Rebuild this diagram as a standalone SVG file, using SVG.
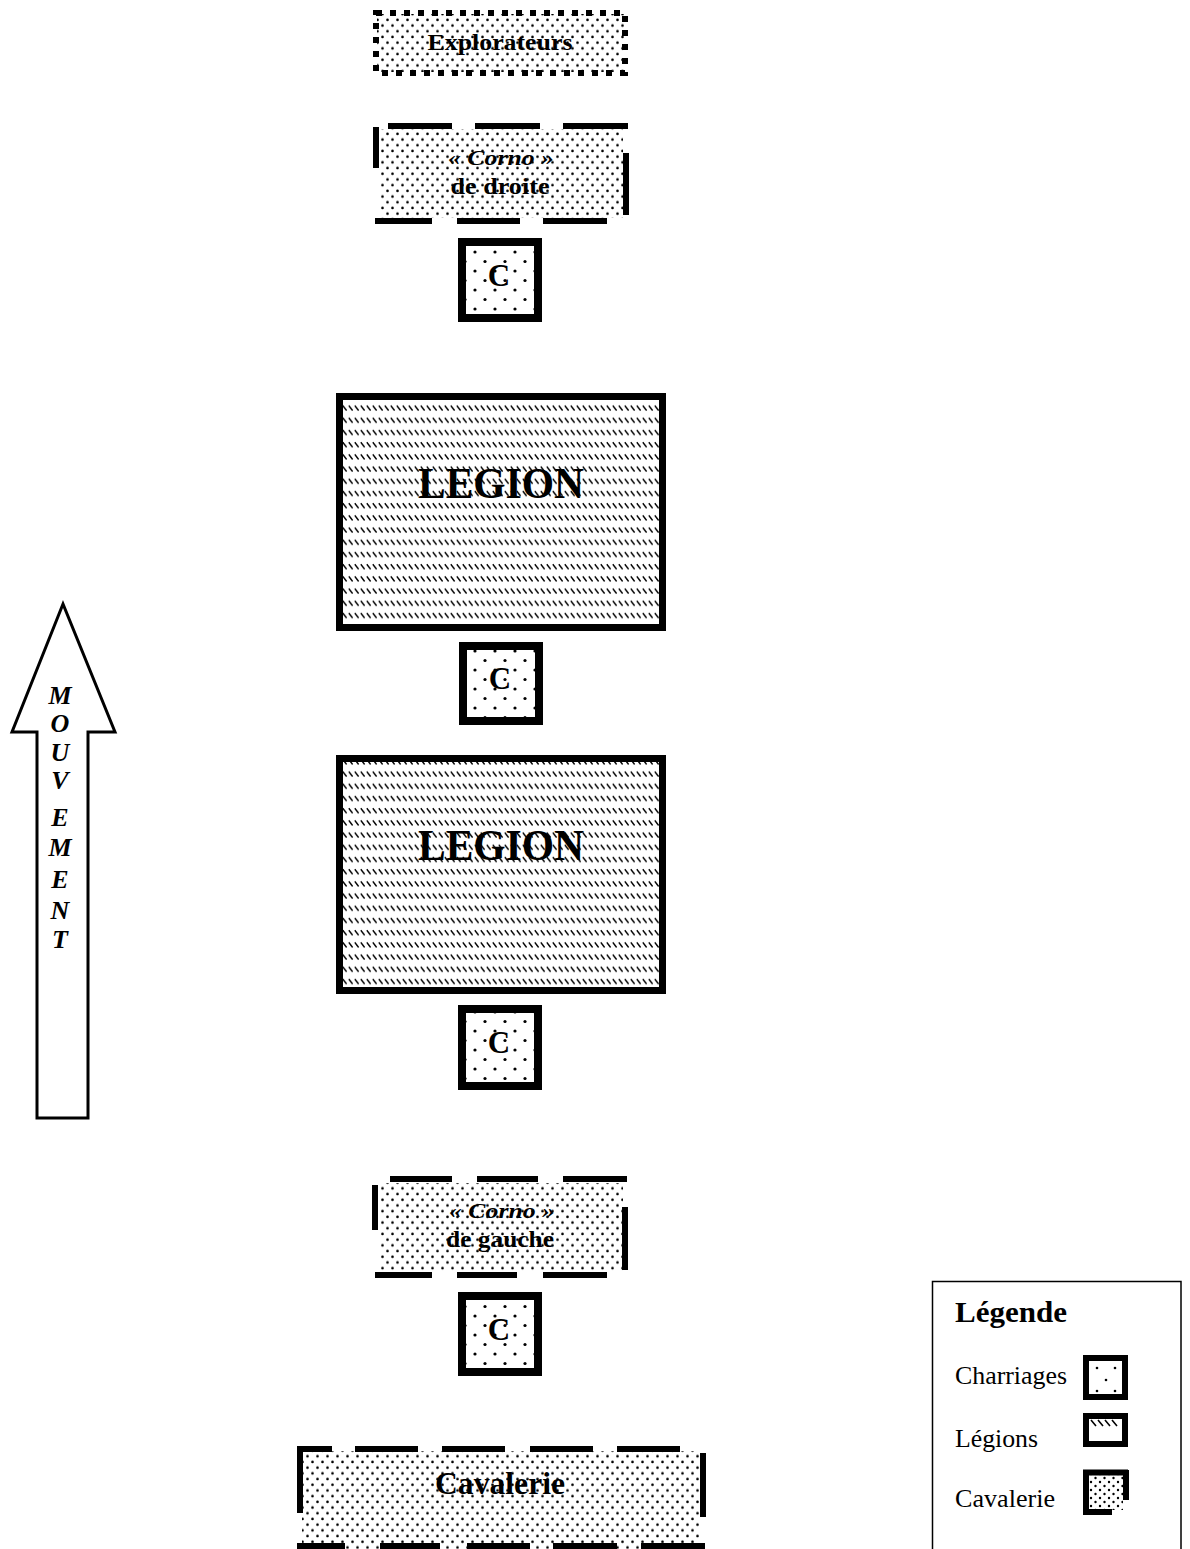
<svg xmlns="http://www.w3.org/2000/svg" width="1190" height="1549" viewBox="0 0 1190 1549">
<defs>
<pattern id="fineDots" patternUnits="userSpaceOnUse" width="10" height="11.4">
<circle cx="2.5" cy="2.8" r="1.3" fill="#000"/>
<circle cx="7.5" cy="8.5" r="1.3" fill="#000"/>
</pattern>
<pattern id="cDots" patternUnits="userSpaceOnUse" width="20" height="19">
<circle cx="15" cy="5" r="1.6" fill="#000"/>
<circle cx="5" cy="14.5" r="1.6" fill="#000"/>
</pattern>
<pattern id="hatch" patternUnits="userSpaceOnUse" width="6" height="12.2">
<line x1="0.8" y1="3" x2="4.6" y2="8" stroke="#000" stroke-width="1.4"/>
</pattern>
<pattern id="legDots" patternUnits="userSpaceOnUse" width="9" height="8">
<circle cx="2" cy="2" r="1.2" fill="#000"/>
<circle cx="6.5" cy="6" r="1.2" fill="#000"/>
</pattern>
</defs>
<style>
text{font-family:"Liberation Serif","Times New Roman",serif;fill:#000}
.b{font-weight:bold}
.bi{font-weight:bold;font-style:italic}
.dash{stroke:#000;stroke-width:6;fill:none}
.cbox{fill:url(#cDots);stroke:#000;stroke-width:8}
.legion{fill:url(#hatch);stroke:#000;stroke-width:7}
</style>
<rect width="1190" height="1549" fill="#fff"/>

<g id="explorateurs">
<rect x="377" y="14" width="247" height="58" fill="url(#fineDots)"/>
<rect x="376" y="13" width="249" height="60" fill="none" stroke="#000" stroke-width="6" stroke-dasharray="6 8"/>
<text class="b" x="500" y="50" font-size="24" text-anchor="middle" textLength="145" lengthAdjust="spacingAndGlyphs">Explorateurs</text>
</g>

<g id="corno-droite">
<rect x="379" y="129" width="244" height="89" fill="url(#fineDots)"/>
<path class="dash" d="M388 126H452M475 126H540M563 126H628M376 127V168M626 153V215M375 221H432M457 221H520M543 221H607"/>
<text class="bi" x="501" y="165" font-size="22" text-anchor="middle" textLength="106" lengthAdjust="spacingAndGlyphs">« Corno »</text>
<text class="b" x="500" y="194" font-size="23" text-anchor="middle" textLength="99" lengthAdjust="spacingAndGlyphs">de droite</text>
</g>

<g id="charriages-1">
<rect class="cbox" x="462" y="242" width="76" height="76"/>
<text class="b" x="499" y="286" font-size="31" text-anchor="middle">C</text>
</g>

<g id="legion-1">
<rect class="legion" x="339.5" y="396.5" width="323" height="231"/>
<text class="b" x="501" y="498" font-size="44" text-anchor="middle" textLength="166" lengthAdjust="spacingAndGlyphs">LEGION</text>
</g>

<g id="charriages-2">
<rect class="cbox" x="463" y="646" width="76" height="75"/>
<text class="b" x="500" y="689" font-size="31" text-anchor="middle">C</text>
</g>

<g id="legion-2">
<rect class="legion" x="339.5" y="758.5" width="323" height="232"/>
<text class="b" x="501" y="860" font-size="44" text-anchor="middle" textLength="166" lengthAdjust="spacingAndGlyphs">LEGION</text>
</g>

<g id="charriages-3">
<rect class="cbox" x="462" y="1009" width="76" height="77"/>
<text class="b" x="499" y="1053" font-size="31" text-anchor="middle">C</text>
</g>

<g id="corno-gauche">
<rect x="379" y="1183" width="244" height="89" fill="url(#fineDots)"/>
<path class="dash" d="M390 1179H452M477 1179H538M563 1179H627M375 1185V1230M625 1207V1270M375 1275H432M457 1275H517M543 1275H607"/>
<text class="bi" x="502" y="1218" font-size="22" text-anchor="middle" textLength="106" lengthAdjust="spacingAndGlyphs">« Corno »</text>
<text class="b" x="500" y="1247" font-size="23" text-anchor="middle" textLength="108" lengthAdjust="spacingAndGlyphs">de gauche</text>
</g>

<g id="charriages-4">
<rect class="cbox" x="462" y="1296" width="76" height="76"/>
<text class="b" x="499" y="1340" font-size="31" text-anchor="middle">C</text>
</g>

<g id="cavalerie">
<rect x="302" y="1451" width="398" height="98" fill="url(#fineDots)"/>
<path class="dash" d="M297 1449H332M355 1449H418M442 1449H505M530 1449H593M617 1449H680M300 1446V1513M703 1453V1517M297 1546H345M380 1546H440M467 1546H530M553 1546H617M641 1546H705"/>
<text class="b" x="500" y="1494" font-size="32" text-anchor="middle" textLength="130" lengthAdjust="spacingAndGlyphs">Cavalerie</text>
</g>

<g id="mouvement">
<path d="M63 604L12 732H37V1118H88V732H115Z" fill="#fff" stroke="#000" stroke-width="3" stroke-linejoin="miter"/>
<g class="bi" font-size="26" text-anchor="middle">
<text x="60" y="704">M</text>
<text x="60" y="732">O</text>
<text x="60" y="761">U</text>
<text x="60" y="789">V</text>
<text x="60" y="826">E</text>
<text x="60" y="856">M</text>
<text x="60" y="888">E</text>
<text x="60" y="919">N</text>
<text x="60" y="948">T</text>
</g>
</g>

<g id="legende">
<rect x="932.5" y="1281.5" width="248.5" height="280" fill="#fff" stroke="#000" stroke-width="1.5"/>
<text class="b" x="955" y="1322" font-size="30" textLength="112" lengthAdjust="spacingAndGlyphs">Légende</text>
<text x="955" y="1384" font-size="26" textLength="112" lengthAdjust="spacingAndGlyphs">Charriages</text>
<text x="955" y="1447" font-size="26" textLength="83" lengthAdjust="spacingAndGlyphs">Légions</text>
<text x="955" y="1507" font-size="26" textLength="100" lengthAdjust="spacingAndGlyphs">Cavalerie</text>
<rect x="1086" y="1358" width="39" height="39" fill="#fff" stroke="#000" stroke-width="6"/>
<circle cx="1097" cy="1368" r="1.3"/><circle cx="1115" cy="1368" r="1.3"/><circle cx="1106" cy="1380" r="1.3"/><circle cx="1097" cy="1391" r="1.3"/><circle cx="1115" cy="1391" r="1.3"/>
<rect x="1086" y="1416" width="39" height="28" fill="#fff" stroke="#000" stroke-width="6"/>
<path d="M1091 1420l5 6M1098 1420l5 6M1105 1420l5 6M1112 1420l5 6" stroke="#000" stroke-width="1.6"/>
<rect x="1089" y="1474" width="34" height="36" fill="url(#legDots)"/>
<path d="M1086 1470V1514M1083 1512H1112M1083 1472.5H1128M1126 1470V1500" stroke="#000" stroke-width="6" fill="none"/>
</g>
</svg>
